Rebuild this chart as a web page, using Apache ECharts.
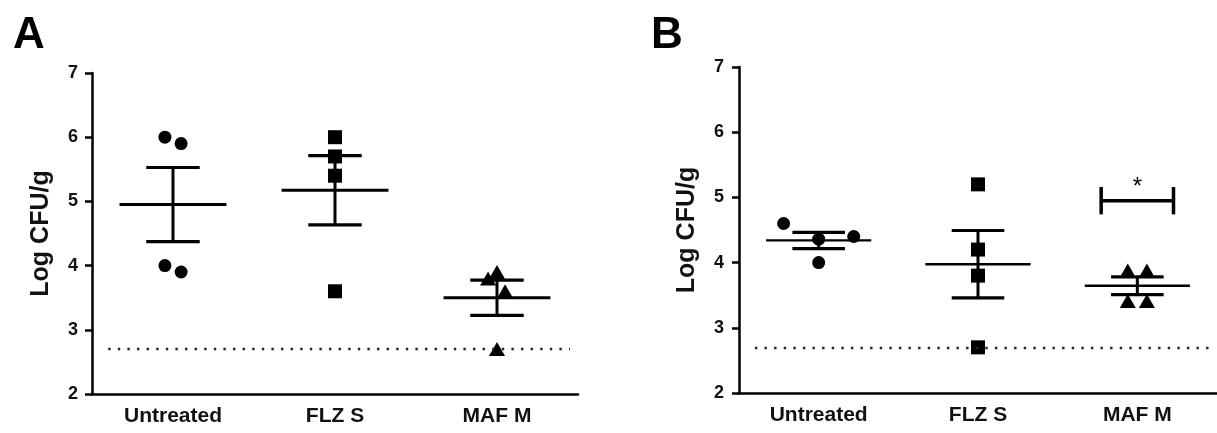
<!DOCTYPE html>
<html>
<head>
<meta charset="utf-8">
<script src="https://cdn.jsdelivr.net/npm/echarts@6/dist/echarts.min.js"></script>
<style>
html,body{margin:0;padding:0;background:#fff;}
#chart{width:1217px;height:433px;}
</style>
</head>
<body>
<div id="chart"></div>
<script>
// ---- data ----
const categories = ['Untreated', 'FLZ S', 'MAF M'];
const yAxisName = 'Log CFU/g';
const panelLabels = ['A', 'B'];
const detectionLimit = 2.7;

// Panel A values (Log CFU/g)
const aUntreated = [6.0, 5.9, 4.0, 3.9];
const aFLZS = [6.0, 5.7, 5.4, 3.6];
const aMAFM = [3.9, 3.8, 3.6, 2.7];

// Panel B values (Log CFU/g)
const bUntreated = [4.6, 4.4, 4.0, 4.36];
const bFLZS = [5.2, 4.2, 3.8, 2.7];
const bMAFM = [3.88, 3.88, 3.41, 3.41];

// significance annotation (panel B, MAF M)
const sigB = { category: 2, level: 4.95, label: '*' };

// ---- horizontal scatter spread (category units) ----
const spreadA = [[-0.05, 0.05, -0.05, 0.05], [0, 0, 0, 0], [0, -0.055, 0.05, 0]];
const spreadB = [[-0.22, 0.22, 0, 0], [0, 0, 0, 0], [-0.06, 0.06, -0.06, 0.06]];

const FONT = '"Liberation Sans", Arial, Helvetica, sans-serif';

function mean(a) { return a.reduce((s, v) => s + v, 0) / a.length; }
function sem(a) {
  const m = mean(a);
  const sd = Math.sqrt(a.reduce((s, v) => s + (v - m) * (v - m), 0) / (a.length - 1));
  return sd / Math.sqrt(a.length);
}

function points(vals, ci, spread) {
  return vals.map((v, k) => [ci + spread[k], v]);
}

function meanSemRender(meanWidth) {
  return function (params, api) {
    const i = api.value(0), m = api.value(1), s = api.value(2);
    const c = api.coord([i, m]);
    const up = api.coord([i, m + s]);
    const lo = api.coord([i, m - s]);
    const band = api.size([1, 0])[0];
    const hw = band * 0.33, cw = band * 0.165;
    const st = (w) => ({ stroke: '#000', lineWidth: w });
    return {
      type: 'group',
      children: [
        { type: 'line', shape: { x1: c[0] - hw, y1: c[1], x2: c[0] + hw, y2: c[1] }, style: st(meanWidth) },
        { type: 'line', shape: { x1: c[0], y1: up[1], x2: c[0], y2: lo[1] }, style: st(3) },
        { type: 'line', shape: { x1: c[0] - cw, y1: up[1], x2: c[0] + cw, y2: up[1] }, style: st(3.2) },
        { type: 'line', shape: { x1: c[0] - cw, y1: lo[1], x2: c[0] + cw, y2: lo[1] }, style: st(3.2) }
      ]
    };
  };
}

function bracketRender(params, api) {
  const i = api.value(0), y = api.value(1);
  const c = api.coord([i, y]);
  const band = api.size([1, 0])[0];
  const hh = api.size([0, 0.21])[1];
  const hw = band * 0.227;
  const st = { stroke: '#000', lineWidth: 3.5 };
  const starPos = api.coord([i, y + 0.2]);
  return {
    type: 'group',
    children: [
      { type: 'line', shape: { x1: c[0] - hw, y1: c[1], x2: c[0] + hw, y2: c[1] }, style: st },
      { type: 'line', shape: { x1: c[0] - hw, y1: c[1] - hh, x2: c[0] - hw, y2: c[1] + hh }, style: st },
      { type: 'line', shape: { x1: c[0] + hw, y1: c[1] - hh, x2: c[0] + hw, y2: c[1] + hh }, style: st },
      { type: 'text', x: c[0], y: starPos[1], style: { text: sigB.label, fill: '#000', font: 'normal 24px ' + FONT, align: 'center', verticalAlign: 'middle' } }
    ]
  };
}

function catAxis(gi) {
  return {
    gridIndex: gi, type: 'category', data: categories,
    axisLine: { onZero: false, lineStyle: { color: '#000', width: 2.5 } },
    axisTick: { alignWithLabel: true, length: 8, lineStyle: { color: '#000', width: 2.5 } },
    axisLabel: { color: '#111', fontFamily: FONT, fontWeight: 'bold', fontSize: 21, margin: 12 },
    splitLine: { show: false }
  };
}
function valXAxis(gi) {
  return { gridIndex: gi, type: 'value', min: -0.5, max: 2.5, show: false, axisLine: { onZero: false }, splitLine: { show: false } };
}
function yAxis(gi, gap, lm) {
  return {
    gridIndex: gi, type: 'value', min: 2, max: 7, interval: 1,
    name: yAxisName, nameLocation: 'middle', nameGap: gap,
    nameTextStyle: { color: '#111', fontFamily: FONT, fontWeight: 'bold', fontSize: 25 },
    axisLine: { show: true, onZero: false, lineStyle: { color: '#000', width: 2.5 } },
    axisTick: { show: true, length: 7, lineStyle: { color: '#000', width: 2.5 } },
    axisLabel: { color: '#111', fontFamily: FONT, fontWeight: 'bold', fontSize: 18, margin: lm },
    splitLine: { show: false }
  };
}

const symbols = [
  { symbol: 'circle', size: 13 },
  { symbol: 'rect', size: 14 },
  { symbol: 'triangle', size: [16, 14] }
];

function panelSeries(groups, spread, xIdx, yIdx, meanWidth) {
  const out = [];
  groups.forEach((vals, ci) => {
    out.push({
      type: 'scatter', xAxisIndex: xIdx, yAxisIndex: yIdx,
      symbol: symbols[ci].symbol, symbolSize: symbols[ci].size,
      itemStyle: { color: '#000', opacity: 1 },
      data: points(vals, ci, spread[ci]), z: 3,
      markLine: ci === 0 ? {
        silent: true, symbol: 'none', label: { show: false },
        lineStyle: { color: '#222', width: 2.4, type: [2.4, 7.2], opacity: 1 },
        data: [[{ coord: [-0.4, detectionLimit] }, { coord: [2.45, detectionLimit] }]]
      } : undefined
    });
  });
  out.push({
    type: 'custom', xAxisIndex: xIdx, yAxisIndex: yIdx, z: 4,
    renderItem: meanSemRender(meanWidth),
    data: groups.map((vals, ci) => [ci, mean(vals), sem(vals)])
  });
  return out;
}

const chart = echarts.init(document.getElementById('chart'), null, { renderer: 'canvas' });
const option = {
  backgroundColor: '#fff',
  animation: false,
  graphic: [
    { type: 'text', left: 13, top: 14, style: { text: panelLabels[0], fill: '#000', font: 'bold 44px ' + FONT } },
    { type: 'text', left: 651, top: 14, style: { text: panelLabels[1], fill: '#000', font: 'bold 44px ' + FONT } }
  ],
  grid: [
    { left: 92, top: 73, width: 486, height: 321 },
    { left: 739, top: 67, width: 489, height: 326 }
  ],
  xAxis: [catAxis(0), valXAxis(0), catAxis(1), valXAxis(1)],
  yAxis: [yAxis(0, 38, 14), yAxis(1, 39, 15)],
  series: [
    ...panelSeries([aUntreated, aFLZS, aMAFM], spreadA, 1, 0, 3),
    ...panelSeries([bUntreated, bFLZS, bMAFM], spreadB, 3, 1, 2.3),
    {
      type: 'custom', xAxisIndex: 3, yAxisIndex: 1, z: 5,
      renderItem: bracketRender,
      data: [[sigB.category, sigB.level]]
    }
  ]
};
chart.setOption(option);
</script>
</body>
</html>
